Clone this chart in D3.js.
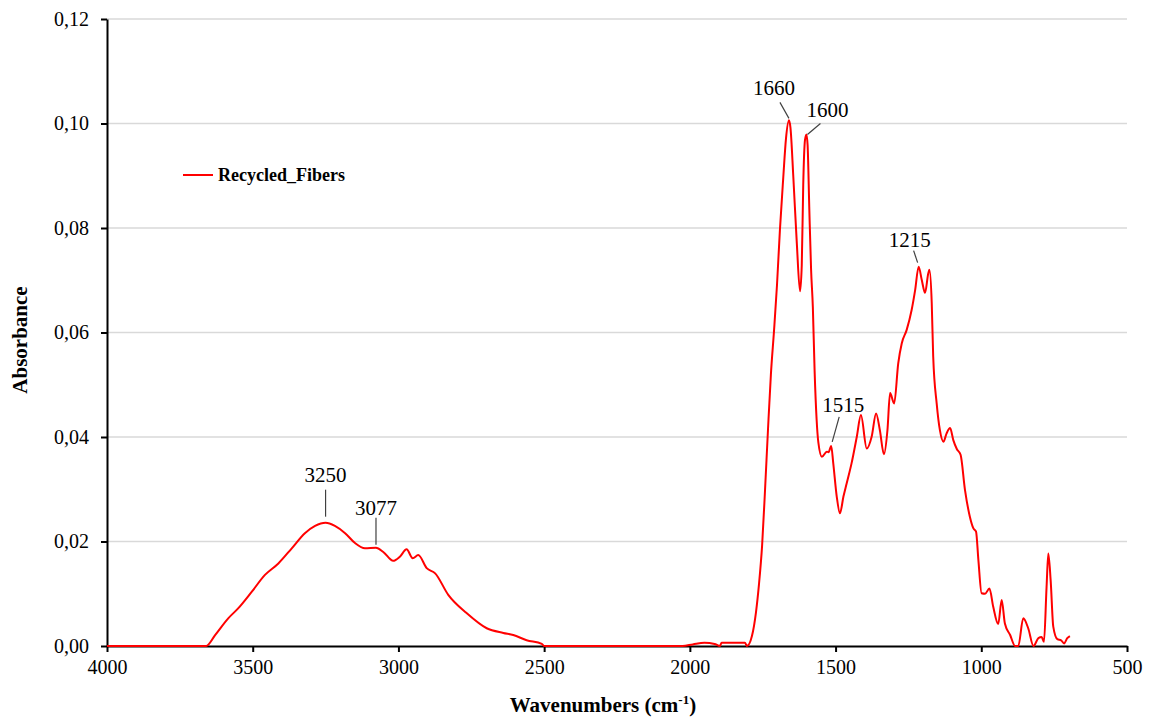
<!DOCTYPE html>
<html>
<head>
<meta charset="utf-8">
<script src="https://cdn.jsdelivr.net/npm/d3@7"></script>
<style>
html,body{margin:0;padding:0;background:#fff;}
svg text{font-family:"Liberation Serif","Times New Roman",serif;fill:#000;}
</style>
</head>
<body>
<svg id="chart" width="1160" height="718"></svg>
<script>
// ---- data ----
const seriesName = "Recycled_Fibers";
const wavenumbers = [4000,3660,3629,3584,3550,3503,3458,3412,3366,3321,3286,3250,3218,3183,3149,3115,3077,3052,3018,2995,2972,2951,2932,2903,2874,2829,2766,2697,2640,2606,2560,2508,2500,
 2025,1990,1950,1915,1897,1891,1811,1804,
 1787,1773,1763,1752,1742,1732,1722,1711,1701,1691,1680,1670,1660,1655,1645,1633,1622,1616,1611,1605,1600,1596,1590,1584,1578,1572,1565,1559,1547,1530,1524,1515,1508,1496,1485,1473,1462,1445,1427,1413,1393,1376,1361,1348,1334,1322,1313,1299,1285,1273,1256,1239,1227,1215,1204,1193,1182,1178,1170,1165,1153,1142,1130,1119,1107,1096,1084,1071,1056,1039,1027,1018,1010,999,987,972,959,942,930,919,901,884,873,856,839,821,804,793,785,776,770,762,753,739,726,716,705,696];
const absorbance = [0,0,0.0021,0.0053,0.0072,0.0104,0.0136,0.0158,0.0187,0.0216,0.0230,0.0236,0.0230,0.0216,0.0197,0.0187,0.0188,0.0180,0.0163,0.0171,0.0185,0.0168,0.0174,0.0149,0.0139,0.0098,0.0063,0.0034,0.0025,0.0021,0.0011,0.0004,0,
 0,0.0003,0.0006,0.0004,0,0.0006,0.0006,0,
 0.0019,0.0065,0.0117,0.0193,0.0299,0.0413,0.0519,0.0605,0.0691,0.0796,0.0892,0.0972,0.1006,0.0993,0.0898,0.0771,0.0679,0.0729,0.0882,0.0968,0.0979,0.0959,0.0834,0.0720,0.0649,0.0528,0.0433,0.0389,0.0362,0.0372,0.0371,0.0383,0.0350,0.0286,0.0254,0.0286,0.0311,0.0350,0.0401,0.0442,0.0378,0.0401,0.0445,0.0413,0.0367,0.0413,0.0484,0.0464,0.0541,0.0579,0.0605,0.0643,0.0681,0.0726,0.0700,0.0676,0.0713,0.0720,0.0656,0.0554,0.0464,0.0413,0.0391,0.0407,0.0417,0.0394,0.0377,0.0366,0.0299,0.0247,0.0225,0.0219,0.0165,0.0101,0.0100,0.0110,0.0075,0.0042,0.0088,0.0043,0.0021,0,0,0.0053,0.0034,0,0.0015,0.0017,0.0008,0.0113,0.0177,0.0126,0.0037,0.0013,0.0011,0.0005,0.0015,0.0019];
const xTicks = [4000,3500,3000,2500,2000,1500,1000,500];
const yTicks = [0,0.02,0.04,0.06,0.08,0.10,0.12];
const peakLabels = ["3250","3077","1660","1600","1515","1215"];
const peakWavenumbers = [3250,3077,1660,1600,1515,1215];
const peakValues = [0.0236,0.0188,0.1006,0.0979,0.0383,0.0726];

// ---- layout ----
const svg = d3.select("#chart");
const mLeft = 107, mRight = 1127, mTop = 19, mBottom = 646;
const x = d3.scaleLinear().domain([4000,500]).range([mLeft,mRight]);
const y = d3.scaleLinear().domain([0,0.12]).range([mBottom,mTop]);
const fmt = v => d3.format(".2f")(v).replace(".", ",");

// gridlines
svg.append("g").selectAll("line").data(yTicks.filter(d=>d>0)).join("line")
  .attr("x1",mLeft).attr("x2",mRight)
  .attr("y1",d=>y(d)).attr("y2",d=>y(d))
  .attr("stroke","#d9d9d9").attr("stroke-width",1.3);

const data = wavenumbers.map((w,i)=>({w, a: absorbance[i]}));

// axes
const xAxis = svg.append("g").attr("transform",`translate(0,${mBottom})`)
  .call(d3.axisBottom(x).tickValues(xTicks).tickSize(6).tickSizeOuter(0).tickPadding(8).tickFormat(d3.format("d")));
const yAxis = svg.append("g").attr("transform",`translate(${mLeft},0)`)
  .call(d3.axisLeft(y).tickValues(yTicks).tickSize(6).tickSizeOuter(0).tickPadding(12).tickFormat(fmt));
[xAxis,yAxis].forEach(g=>{
  g.selectAll(".domain").attr("stroke","#000").attr("stroke-width",2);
  g.selectAll(".tick line").attr("stroke","#000").attr("stroke-width",2);
  g.selectAll(".tick text").style("font-family",'"Liberation Serif","Times New Roman",serif').style("font-size","20px").attr("fill","#000");
});

// line (drawn over axes)
svg.append("path").datum(data)
  .attr("fill","none").attr("stroke","#ff0000").attr("stroke-width",2)
  .attr("stroke-linejoin","round")
  .attr("d", d3.line().x(d=>x(d.w)).y(d=>y(d.a)).curve(d3.curveMonotoneX));

// annotations (label positions relative to peak)
const annOffsets = [
  {dx:0, dy:-41, sx:0, sy:-33, ex:0, ey:-6},
  {dx:0, dy:-33, sx:0, sy:-30, ex:0, ey:-3},
  {dx:-15, dy:-25, sx:-9, sy:-18, ex:0, ey:-2},
  {dx:21, dy:-17, sx:14, sy:-11, ex:1, ey:0},
  {dx:12, dy:-34, sx:8, sy:-29, ex:1, ey:-4},
  {dx:-9, dy:-20, sx:-5, sy:-16, ex:-1, ey:-4}
];
peakLabels.forEach((lab,i)=>{
  const px = x(peakWavenumbers[i]), py = y(peakValues[i]), o = annOffsets[i];
  svg.append("line").attr("x1",px+o.sx).attr("y1",py+o.sy).attr("x2",px+o.ex).attr("y2",py+o.ey)
    .attr("stroke","#404040").attr("stroke-width",1.2);
  svg.append("text").attr("x",px+o.dx).attr("y",py+o.dy).attr("text-anchor","middle")
    .style("font-size","21px").text(lab);
});

// legend
svg.append("line").attr("x1",183).attr("x2",213).attr("y1",175).attr("y2",175)
  .attr("stroke","#ff0000").attr("stroke-width",2);
svg.append("text").attr("x",218).attr("y",181).style("font-size","18px").style("font-weight","bold").text(seriesName);

// axis titles
svg.append("text").attr("transform","translate(27,340) rotate(-90)").attr("text-anchor","middle")
  .style("font-size","21px").style("font-weight","bold").text("Absorbance");
const xt = svg.append("text").attr("x",603).attr("y",712).attr("text-anchor","middle")
  .style("font-size","21px").style("font-weight","bold");
xt.append("tspan").text("Wavenumbers (cm");
xt.append("tspan").attr("dy",-8).style("font-size","13px").text("-1");
xt.append("tspan").attr("dy",8).text(")");
</script>
</body>
</html>
